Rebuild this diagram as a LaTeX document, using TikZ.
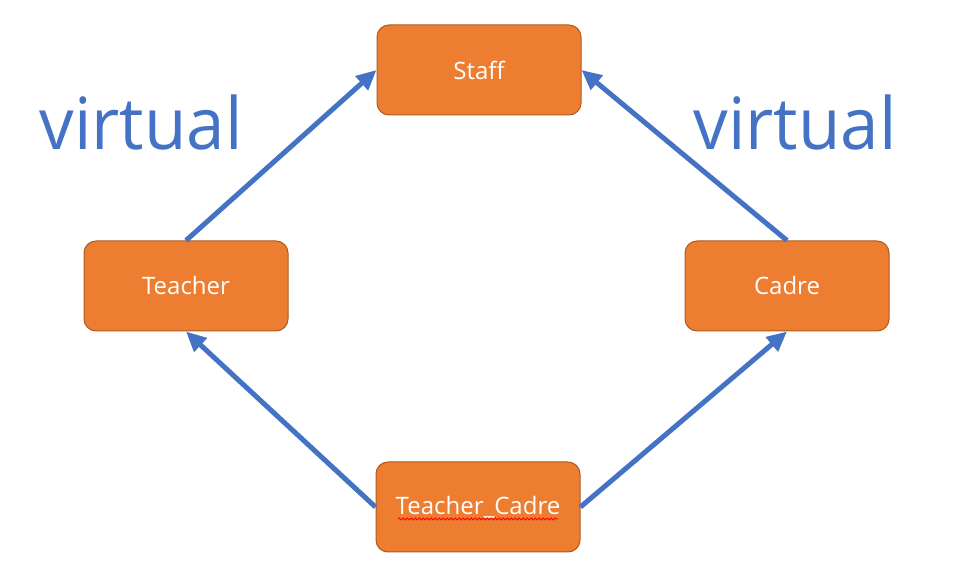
\documentclass[tikz,border=0pt]{standalone}
\usepackage{fontspec}
\setmainfont{Open Sans}
\usepackage{tikz}
\usetikzlibrary{arrows.meta, positioning, decorations.pathmorphing}
\definecolor{orangebox}{HTML}{ED7D31}
\definecolor{orangerand}{HTML}{AE5A21}
\definecolor{pfeilblau}{HTML}{4472C4}

\begin{document}
\begin{tikzpicture}[x=0.5pt, y=-0.5pt,
        klasse/.style={draw=orangerand, line width=0.5pt, fill=orangebox,
            rounded corners=6pt, minimum width=102pt, minimum height=45pt,
            text=white, font=\fontsize{12}{14}\selectfont},
        arr/.style={-{Triangle[length=10pt, width=9pt]}, line width=2.5pt, pfeilblau},
        virt/.style={text=pfeilblau, font=\fontsize{36}{40}\selectfont,
            inner sep=0pt, xscale=0.96}
      ]
      \useasboundingbox (0,0) rectangle (976,582);
      \node[klasse] (staff) at (479,70) {Staff};
      \node[klasse] (teacher) at (186,286) {Teacher};
      \node[klasse] (cadre) at (787,286) {Cadre};
      \node[klasse] (tc) at (478,507) {Teacher\_Cadre};
      \node[virt, anchor=base] (virtL) at (141,150) {virtual};
      \node[virt, anchor=base] (virtR) at (795,150) {virtual};
      % Rechtschreibmarkierung
      \draw[red, line width=0.4pt, decorate,
            decoration={snake, amplitude=0.5pt, segment length=2pt}]
        ([xshift=-40pt, yshift=-6pt]tc.center) -- ([xshift=40pt, yshift=-6pt]tc.center);
      \draw[arr] (teacher.north) -- (staff.west);
      \draw[arr] (cadre.north) -- (staff.east);
      \draw[arr] (tc.west) -- (teacher.south);
      \draw[arr] (tc.east) -- (cadre.south);
    \end{tikzpicture}
\end{document}
